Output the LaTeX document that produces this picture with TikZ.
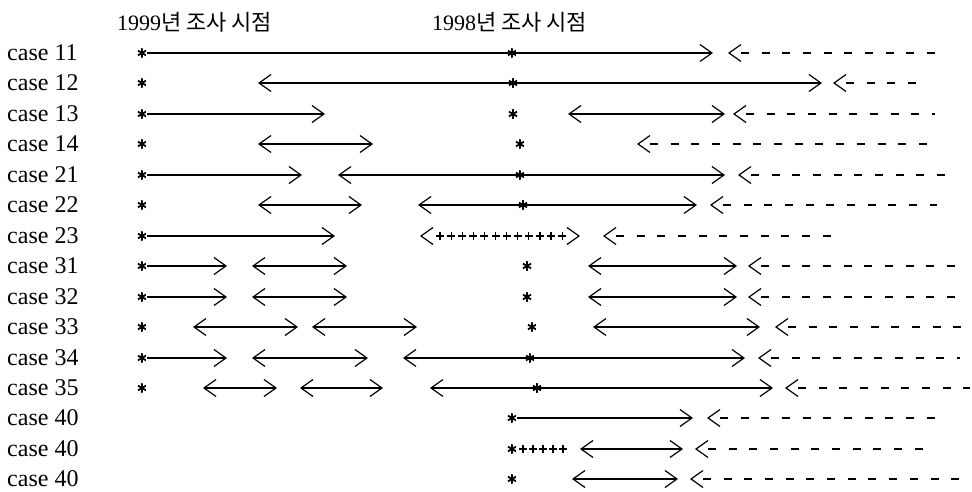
\documentclass[tikz,border=0pt]{standalone}
\usepackage{fontspec}
\setmainfont{Liberation Serif}
\newfontfamily\kr{Noto Sans CJK KR}
\usetikzlibrary{arrows.meta,decorations.markings}
\tikzset{
  chev/.tip={Straight Barb[length=12pt,width=17pt,line width=1.2pt]},
  lab/.style={anchor=west,inner sep=0pt,font=\fontsize{24}{26}\selectfont},
  ttl/.style={anchor=west,inner sep=0pt,font=\fontsize{22}{24}\selectfont},
  ast/.style={circle,minimum size=10pt,inner sep=0pt,
    path picture={\foreach \a in {90,30,150}
      \draw[line width=1.8pt,solid]
        ([shift={(\a:5pt)}]path picture bounding box.center) --
        ([shift={(\a+180:5pt)}]path picture bounding box.center);}},
  ln/.style={line width=1.1pt},
  dsh/.style={line width=1.2pt,dash pattern=on 8pt off 12.7pt,dash phase=9.5pt},
  plusmark/.style={line width=1.2pt,solid,arrows=-},
  plusA/.style={postaction={decorate},decoration={markings,
    mark=between positions 20pt and -17pt step 11.1pt with
      {\draw[plusmark] (-4pt,0)--(4pt,0) (0,-4pt)--(0,4pt);}}},
  plusB/.style={postaction={decorate},decoration={markings,
    mark=between positions 11pt and 52pt step 10pt with
      {\draw[plusmark] (-4pt,0)--(4pt,0) (0,-4pt)--(0,4pt);}}},
  hide/.style={dash pattern=on 0pt off 1000pt}
}
\begin{document}
\begin{tikzpicture}[x=1pt,y=-1pt]
\useasboundingbox (0,0) rectangle (972,492);
\node[ttl] (t1) at (117,22) {1999{\kr 년 조사 시점}};
\node[ttl] (t2) at (432,22) {1998{\kr 년 조사 시점}};
% row case 11
\node[lab] (l0) at (7,53) {case 11};
\node[ast] (r0a) at (142,53) {};
\node[ast] (r0b) at (512,53) {};
\coordinate (r0e) at (713,53);
\coordinate (r0f) at (728,53); \coordinate (r0g) at (935,53);
\draw[ln,-chev] (r0a) -- (r0b.center) -- (r0e);
\draw[dsh,chev-] (r0f) -- (r0g);
% row case 12
\node[lab] (l1) at (7,83) {case 12};
\node[ast] (r1a) at (142,83) {};
\coordinate (r1c) at (258,83);
\node[ast] (r1b) at (513,83) {};
\coordinate (r1e) at (822,83);
\coordinate (r1f) at (833,83); \coordinate (r1g) at (927,83);
\draw[ln,chev-chev] (r1c) -- (r1b.center) -- (r1e);
\draw[dsh,chev-] (r1f) -- (r1g);
% row case 13
\node[lab] (l2) at (7,114) {case 13};
\node[ast] (r2a) at (142,114) {};
\coordinate (r2e) at (325,114);
\node[ast] (r2b) at (513,114) {};
\coordinate (r2c) at (568,114); \coordinate (r2d) at (725,114);
\coordinate (r2f) at (733,114); \coordinate (r2g) at (935,114);
\draw[ln,-chev] (r2a) -- (r2e);
\draw[ln,chev-chev] (r2c) -- (r2d);
\draw[dsh,chev-] (r2f) -- (r2g);
% row case 14
\node[lab] (l3) at (7,144) {case 14};
\node[ast] (r3a) at (142,144) {};
\coordinate (r3c) at (258,144); \coordinate (r3d) at (373,144);
\node[ast] (r3b) at (520,144) {};
\coordinate (r3f) at (637,144); \coordinate (r3g) at (938,144);
\draw[ln,chev-chev] (r3c) -- (r3d);
\draw[dsh,chev-] (r3f) -- (r3g);
% row case 21
\node[lab] (l4) at (7,175) {case 21};
\node[ast] (r4a) at (142,175) {};
\coordinate (r4e) at (302,175);
\coordinate (r4c) at (338,175);
\node[ast] (r4b) at (520,175) {};
\coordinate (r4d) at (725,175);
\coordinate (r4f) at (738,175); \coordinate (r4g) at (948,175);
\draw[ln,-chev] (r4a) -- (r4e);
\draw[ln,chev-chev] (r4c) -- (r4b.center) -- (r4d);
\draw[dsh,chev-] (r4f) -- (r4g);
% row case 22
\node[lab] (l5) at (7,205) {case 22};
\node[ast] (r5a) at (142,205) {};
\coordinate (r5c) at (258,205); \coordinate (r5d) at (362,205);
\coordinate (r5h) at (418,205);
\node[ast] (r5b) at (523,205) {};
\coordinate (r5k) at (697,205);
\coordinate (r5f) at (710,205); \coordinate (r5g) at (937,205);
\draw[ln,chev-chev] (r5c) -- (r5d);
\draw[ln,chev-chev] (r5h) -- (r5b.center) -- (r5k);
\draw[dsh,chev-] (r5f) -- (r5g);
% row case 23
\node[lab] (l6) at (7,236) {case 23};
\node[ast] (r6a) at (142,236) {};
\coordinate (r6e) at (335,236);
\coordinate (r6c) at (420,236); \coordinate (r6d) at (580,236);
\coordinate (r6f) at (603,236); \coordinate (r6g) at (835,236);
\draw[ln,-chev] (r6a) -- (r6e);
\draw[ln,hide,chev-chev,plusA] (r6c) -- (r6d);
\draw[dsh,chev-] (r6f) -- (r6g);
% row case 31
\node[lab] (l7) at (7,266) {case 31};
\node[ast] (r7a) at (142,266) {};
\coordinate (r7e) at (227,266);
\coordinate (r7c) at (252,266); \coordinate (r7d) at (347,266);
\node[ast] (r7b) at (527,266) {};
\coordinate (r7h) at (588,266); \coordinate (r7k) at (737,266);
\coordinate (r7f) at (748,266); \coordinate (r7g) at (960,266);
\draw[ln,-chev] (r7a) -- (r7e);
\draw[ln,chev-chev] (r7c) -- (r7d);
\draw[ln,chev-chev] (r7h) -- (r7k);
\draw[dsh,chev-] (r7f) -- (r7g);
% row case 32
\node[lab] (l8) at (7,297) {case 32};
\node[ast] (r8a) at (142,297) {};
\coordinate (r8e) at (227,297);
\coordinate (r8c) at (252,297); \coordinate (r8d) at (347,297);
\node[ast] (r8b) at (527,297) {};
\coordinate (r8h) at (588,297); \coordinate (r8k) at (737,297);
\coordinate (r8f) at (748,297); \coordinate (r8g) at (960,297);
\draw[ln,-chev] (r8a) -- (r8e);
\draw[ln,chev-chev] (r8c) -- (r8d);
\draw[ln,chev-chev] (r8h) -- (r8k);
\draw[dsh,chev-] (r8f) -- (r8g);
% row case 33
\node[lab] (l9) at (7,327) {case 33};
\node[ast] (r9a) at (142,327) {};
\coordinate (r9c) at (193,327); \coordinate (r9d) at (298,327);
\coordinate (r9h) at (312,327); \coordinate (r9k) at (417,327);
\node[ast] (r9b) at (532,327) {};
\coordinate (r9m) at (593,327); \coordinate (r9n) at (760,327);
\coordinate (r9f) at (775,327); \coordinate (r9g) at (962,327);
\draw[ln,chev-chev] (r9c) -- (r9d);
\draw[ln,chev-chev] (r9h) -- (r9k);
\draw[ln,chev-chev] (r9m) -- (r9n);
\draw[dsh,chev-] (r9f) -- (r9g);
% row case 34
\node[lab] (l10) at (7,358) {case 34};
\node[ast] (r10a) at (142,358) {};
\coordinate (r10e) at (227,358);
\coordinate (r10c) at (252,358); \coordinate (r10d) at (368,358);
\coordinate (r10h) at (403,358);
\node[ast] (r10b) at (530,358) {};
\coordinate (r10k) at (745,358);
\coordinate (r10f) at (758,358); \coordinate (r10g) at (960,358);
\draw[ln,-chev] (r10a) -- (r10e);
\draw[ln,chev-chev] (r10c) -- (r10d);
\draw[ln,chev-chev] (r10h) -- (r10b.center) -- (r10k);
\draw[dsh,chev-] (r10f) -- (r10g);
% row case 35
\node[lab] (l11) at (7,388) {case 35};
\node[ast] (r11a) at (142,388) {};
\coordinate (r11c) at (203,388); \coordinate (r11d) at (277,388);
\coordinate (r11h) at (300,388); \coordinate (r11k) at (383,388);
\coordinate (r11m) at (430,388);
\node[ast] (r11b) at (537,388) {};
\coordinate (r11n) at (773,388);
\coordinate (r11f) at (785,388); \coordinate (r11g) at (970,388);
\draw[ln,chev-chev] (r11c) -- (r11d);
\draw[ln,chev-chev] (r11h) -- (r11k);
\draw[ln,chev-chev] (r11m) -- (r11b.center) -- (r11n);
\draw[dsh,chev-] (r11f) -- (r11g);
% row case 40 (a)
\node[lab] (l12) at (7,418) {case 40};
\node[ast] (r12b) at (512,418) {};
\coordinate (r12e) at (693,418);
\coordinate (r12f) at (707,418); \coordinate (r12g) at (942,418);
\draw[ln,-chev] (r12b) -- (r12e);
\draw[dsh,chev-] (r12f) -- (r12g);
% row case 40 (b)
\node[lab] (l13) at (7,449) {case 40};
\node[ast] (r13b) at (512,449) {};
\coordinate (r13p) at (566,449);
\coordinate (r13c) at (580,449); \coordinate (r13d) at (683,449);
\coordinate (r13f) at (695,449); \coordinate (r13g) at (930,449);
\path[plusB] (r13b.center) -- (r13p);
\draw[ln,chev-chev] (r13c) -- (r13d);
\draw[dsh,chev-] (r13f) -- (r13g);
% row case 40 (c)
\node[lab] (l14) at (7,479) {case 40};
\node[ast] (r14b) at (512,479) {};
\coordinate (r14c) at (572,479); \coordinate (r14d) at (678,479);
\coordinate (r14f) at (690,479); \coordinate (r14g) at (970,479);
\draw[ln,chev-chev] (r14c) -- (r14d);
\draw[dsh,chev-] (r14f) -- (r14g);
\end{tikzpicture}
\end{document}
